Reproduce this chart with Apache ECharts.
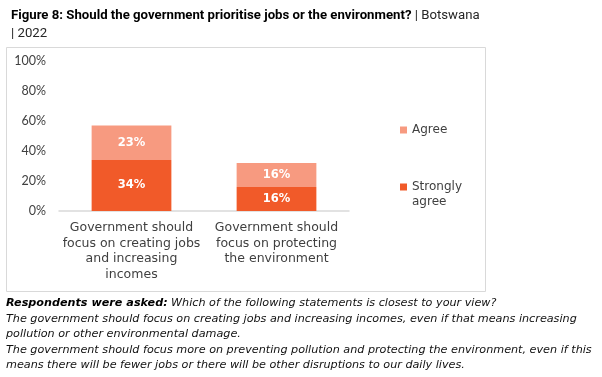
<!DOCTYPE html>
<html>
<head>
<meta charset="utf-8">
<script src="https://cdn.jsdelivr.net/npm/echarts@6/dist/echarts.min.js"></script>
<style>html,body{margin:0;padding:0;background:#fff;}#c{width:602px;height:377px;}</style>
</head>
<body>
<div id="c"></div>
<script>
const categories = ['Government should\nfocus on creating jobs\nand increasing\nincomes', 'Government should\nfocus on protecting\nthe environment'];
const stronglyAgree = [34, 16];
const agree = [23, 16];
const yTicks = [0, 20, 40, 60, 80, 100];

const FONT = 'DejaVu Sans';
const chart = echarts.init(document.getElementById('c'), null, {renderer: 'canvas'});
chart.setOption({
  backgroundColor: '#ffffff',
  animation: false,
  textStyle: {fontFamily: FONT},
  title: {
    left: 6, top: 1,
    text: '{b|Figure 8: Should the government prioritise jobs or the environment?}{n| | Botswana}\n{n|| 2022}',
    textStyle: {
      rich: {
        b: {fontFamily: 'Roboto', fontWeight: 'bold', fontSize: 13.2, color: '#000', lineHeight: 18.5},
        n: {fontFamily: 'Roboto', fontWeight: 'normal', fontSize: 13.2, color: '#262626', lineHeight: 18.5}
      }
    }
  },
  graphic: [
    {type: 'rect', shape: {x: 6.5, y: 47.5, width: 479, height: 244}, style: {fill: 'none', stroke: '#d9d9d9', lineWidth: 1}, z: -1},
    {type: 'text', left: 6, top: 297, style: {
      text: '{b|Respondents were asked:} {i|Which of the following statements is closest to your view?}\n{i|The government should focus on creating jobs and increasing incomes, even if that means increasing}\n{i|pollution or other environmental damage.}\n{i|The government should focus more on preventing pollution and protecting the environment, even if this}\n{i|means there will be fewer jobs or there will be other disruptions to our daily lives.}',
      rich: {
        b: {fontFamily: FONT, fontWeight: 'bold', fontStyle: 'italic', fontSize: 11.2, fill: '#000', lineHeight: 15.6},
        i: {fontFamily: FONT, fontStyle: 'italic', fontSize: 11.2, fill: '#111', lineHeight: 15.6}
      }
    }}
  ],
  legend: [
    {data: ['Agree'], left: 395, top: 119, orient: 'vertical', itemWidth: 7, itemHeight: 7, icon: 'rect',
     textStyle: {fontFamily: FONT, fontSize: 12, color: '#404040'}},
    {data: ['Strongly agree'], left: 395, top: 159.5, orient: 'vertical', itemWidth: 7, itemHeight: 7, icon: 'rect',
     formatter: function(){ return '\nStrongly\nagree'; },
     textStyle: {fontFamily: FONT, fontSize: 12, color: '#404040', lineHeight: 15}}
  ],
  grid: {left: 59, right: 253, top: 61, bottom: 166, containLabel: false},
  xAxis: {
    type: 'category', data: categories,
    axisLine: {lineStyle: {color: '#d9d9d9', width: 1.5}},
    axisTick: {show: false},
    axisLabel: {fontFamily: FONT, fontSize: 12.5, color: '#404040', lineHeight: 15.5, margin: 9, interval: 0}
  },
  yAxis: {
    type: 'value', min: 0, max: 100, interval: 20,
    axisLine: {show: false}, axisTick: {show: false}, splitLine: {show: false},
    axisLabel: {fontFamily: 'Lato', fontSize: 12.5, color: '#404040', formatter: '{value}%', margin: 13}
  },
  series: [
    {name: 'Strongly agree', type: 'bar', stack: 's', data: stronglyAgree, barWidth: '55%',
     itemStyle: {color: '#F15A29'},
     label: {show: true, position: 'inside', formatter: '{c}%', color: '#fff', fontWeight: 'bold', fontSize: 11.5, fontFamily: FONT}},
    {name: 'Agree', type: 'bar', stack: 's', data: agree, barWidth: '55%',
     itemStyle: {color: '#F79A80'},
     label: {show: true, position: 'inside', formatter: '{c}%', color: '#fff', fontWeight: 'bold', fontSize: 11.5, fontFamily: FONT}}
  ]
});
</script>
</body>
</html>
